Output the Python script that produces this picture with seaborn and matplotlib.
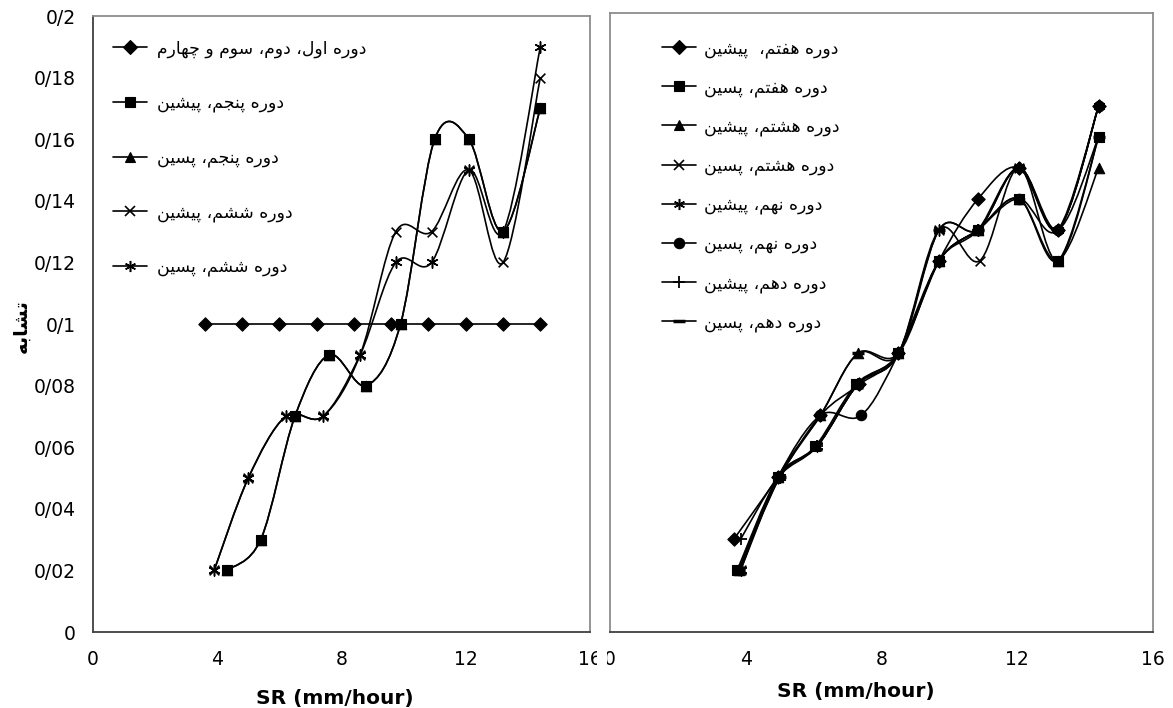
import matplotlib
matplotlib.use("Agg")
import numpy as np
import matplotlib.pyplot as plt
from matplotlib.path import Path
from matplotlib.patches import PathPatch, Rectangle
from matplotlib.lines import Line2D
import seaborn as sns

# ---------------- data ----------------
x_ticks = [0, 4, 8, 12, 16]
y_ticks = [0, 0.02, 0.04, 0.06, 0.08, 0.10, 0.12, 0.14, 0.16, 0.18, 0.20]
y_tick_labels = ["0", "0/02", "0/04", "0/06", "0/08", "0/1",
                 "0/12", "0/14", "0/16", "0/18", "0/2"]
x_title = "SR (mm/hour)"
y_title = "تشابه"

# left panel: periods 1-6
left_labels = [
    "دوره اول، دوم، سوم و چهارم",
    "دوره پنجم، پیشین",
    "دوره پنجم، پسین",
    "دوره ششم، پیشین",
    "دوره ششم، پسین",
]
p1to4_x = [3.6, 4.8, 6.0, 7.2, 8.4, 9.6, 10.8, 12.0, 13.2, 14.4]
p1to4_y = [0.10, 0.10, 0.10, 0.10, 0.10, 0.10, 0.10, 0.10, 0.10, 0.10]
p5_am_x = [4.3, 5.4, 6.5, 7.6, 8.8, 9.9, 11.0, 12.1, 13.2, 14.4]
p5_am_y = [0.02, 0.03, 0.07, 0.09, 0.08, 0.10, 0.16, 0.16, 0.13, 0.17]
p5_pm_x = [4.3, 5.4, 6.5, 7.6, 8.8, 9.9, 11.0, 12.1, 13.2, 14.4]
p5_pm_y = [0.02, 0.03, 0.07, 0.09, 0.08, 0.10, 0.16, 0.16, 0.13, 0.17]
p6_am_x = [3.9, 5.0, 6.2, 7.4, 8.6, 9.75, 10.9, 12.1, 13.2, 14.4]
p6_am_y = [0.02, 0.05, 0.07, 0.07, 0.09, 0.13, 0.13, 0.15, 0.12, 0.18]
p6_pm_x = [3.9, 5.0, 6.2, 7.4, 8.6, 9.75, 10.9, 12.1, 13.2, 14.4]
p6_pm_y = [0.02, 0.05, 0.07, 0.07, 0.09, 0.12, 0.12, 0.15, 0.13, 0.19]

# right panel: periods 7-10
right_labels = [
    "دوره هفتم،  پیشین",
    "دوره هفتم، پسین",
    "دوره هشتم، پیشین",
    "دوره هشتم، پسین",
    "دوره نهم، پیشین",
    "دوره نهم، پسین",
    "دوره دهم، پیشین",
    "دوره دهم، پسین",
]
p7_am_x = [3.65, 4.95, 6.2, 7.35, 8.5, 9.7, 10.85, 12.05, 13.2, 14.4]
p7_am_y = [0.03, 0.05, 0.07, 0.08, 0.09, 0.12, 0.14, 0.15, 0.13, 0.17]
p7_pm_x = [3.75, 4.95, 6.05, 7.25, 8.5, 9.7, 10.85, 12.05, 13.2, 14.4]
p7_pm_y = [0.02, 0.05, 0.06, 0.08, 0.09, 0.12, 0.13, 0.14, 0.12, 0.16]
p8_am_x = [3.8, 4.95, 6.2, 7.3, 8.5, 9.7, 10.85, 12.05, 13.2, 14.4]
p8_am_y = [0.02, 0.05, 0.07, 0.09, 0.09, 0.12, 0.13, 0.14, 0.12, 0.15]
p8_pm_x = [3.85, 4.95, 6.1, 7.3, 8.5, 9.7, 10.9, 12.05, 13.2, 14.4]
p8_pm_y = [0.02, 0.05, 0.06, 0.08, 0.09, 0.13, 0.12, 0.15, 0.12, 0.16]
p9_am_x = [3.85, 5.0, 6.1, 7.3, 8.5, 9.7, 10.85, 12.05, 13.2, 14.4]
p9_am_y = [0.02, 0.05, 0.06, 0.08, 0.09, 0.13, 0.13, 0.15, 0.13, 0.17]
p9_pm_x = [3.8, 4.95, 6.2, 7.4, 8.5, 9.7, 10.85, 12.05, 13.2, 14.4]
p9_pm_y = [0.02, 0.05, 0.07, 0.07, 0.09, 0.12, 0.13, 0.14, 0.13, 0.17]
p10_am_x = [3.85, 4.95, 6.1, 7.3, 8.5, 9.7, 10.85, 12.05, 13.2, 14.4]
p10_am_y = [0.03, 0.05, 0.06, 0.08, 0.09, 0.12, 0.13, 0.15, 0.13, 0.17]
p10_pm_x = [3.8, 5.0, 6.2, 7.3, 8.5, 9.7, 10.85, 12.05, 13.2, 14.4]
p10_pm_y = [0.02, 0.05, 0.07, 0.09, 0.09, 0.13, 0.13, 0.15, 0.13, 0.16]

# (legend index, x, y) in drawing order; hidden duplicates go first
left_series = [(0, p1to4_x, p1to4_y), (2, p5_pm_x, p5_pm_y),
               (1, p5_am_x, p5_am_y), (4, p6_pm_x, p6_pm_y),
               (3, p6_am_x, p6_am_y)]
right_series = [(0, p7_am_x, p7_am_y), (1, p7_pm_x, p7_pm_y),
                (2, p8_am_x, p8_am_y), (3, p8_pm_x, p8_pm_y),
                (4, p9_am_x, p9_am_y), (5, p9_pm_x, p9_pm_y),
                (6, p10_am_x, p10_am_y), (7, p10_pm_x, p10_pm_y)]

# marker style per legend entry: (marker, size in pt, edge width)
left_styles = [("D", 6.8, 0.8), ("s", 7.5, 0.8), ("^", 7.5, 0.8),
               ("x", 7.0, 1.2), ((6, 2, 0), 8.0, 1.1)]
right_styles = [("D", 6.8, 0.8), ("s", 7.5, 0.8), ("^", 7.5, 0.8),
                ("x", 7.0, 1.2), ((6, 2, 0), 8.0, 1.1), ("o", 7.5, 0.8),
                ("+", 9.0, 1.3), ("_", 8.0, 2.5)]

# ---------------- helpers ----------------
_FORMS = {
    # letter: (isolated, final, initial, medial); None = no forward joining
    "ا": ("\uFE8D", "\uFE8E", None, None),
    "د": ("\uFEA9", "\uFEAA", None, None),
    "ر": ("\uFEAD", "\uFEAE", None, None),
    "و": ("\uFEED", "\uFEEE", None, None),
    "ب": ("\uFE8F", "\uFE90", "\uFE91", "\uFE92"),
    "پ": ("\uFB56", "\uFB57", "\uFB58", "\uFB59"),
    "ت": ("\uFE95", "\uFE96", "\uFE97", "\uFE98"),
    "ج": ("\uFE9D", "\uFE9E", "\uFE9F", "\uFEA0"),
    "چ": ("\uFB7A", "\uFB7B", "\uFB7C", "\uFB7D"),
    "س": ("\uFEB1", "\uFEB2", "\uFEB3", "\uFEB4"),
    "ش": ("\uFEB5", "\uFEB6", "\uFEB7", "\uFEB8"),
    "ف": ("\uFED1", "\uFED2", "\uFED3", "\uFED4"),
    "ل": ("\uFEDD", "\uFEDE", "\uFEDF", "\uFEE0"),
    "م": ("\uFEE1", "\uFEE2", "\uFEE3", "\uFEE4"),
    "ن": ("\uFEE5", "\uFEE6", "\uFEE7", "\uFEE8"),
    "ه": ("\uFEE9", "\uFEEA", "\uFEEB", "\uFEEC"),
    "ی": ("\uFBFC", "\uFBFD", "\uFBFE", "\uFBFF"),
}


def rtl(text):
    """Contextual Persian letter forms in visual (left-to-right) order."""
    out = []
    for i, ch in enumerate(text):
        f = _FORMS.get(ch)
        if f is None:
            out.append(ch)
            continue
        prev = text[i - 1] if i > 0 else ""
        nxt = text[i + 1] if i + 1 < len(text) else ""
        jp = prev in _FORMS and _FORMS[prev][2] is not None
        jn = nxt in _FORMS and f[2] is not None
        if jp and jn:
            out.append(f[3])
        elif jp:
            out.append(f[1])
        elif jn:
            out.append(f[2])
        else:
            out.append(f[0])
    return "".join(reversed(out))


def smooth_path(xs, ys):
    """Cardinal-spline Bezier path through the points (smoothed line)."""
    p = np.column_stack([xs, ys]).astype(float)
    n = len(p)
    verts, codes = [p[0]], [Path.MOVETO]
    for i in range(n - 1):
        p0 = p[i - 1] if i > 0 else p[i]
        p1, p2 = p[i], p[i + 1]
        p3 = p[i + 2] if i + 2 < n else p[i + 1]
        verts += [p1 + (p2 - p0) / 6.0, p2 - (p3 - p1) / 6.0, p2]
        codes += [Path.CURVE4] * 3
    return Path(verts, codes)


def draw_series(ax, xs, ys, style):
    marker, ms, mew = style
    ax.add_patch(PathPatch(smooth_path(xs, ys), facecolor="none",
                           edgecolor="black", lw=1.2, zorder=2))
    sns.scatterplot(x=xs, y=ys, marker=marker, s=ms ** 2, color="black",
                    edgecolor="black", linewidth=mew, ax=ax, zorder=3,
                    legend=False)


def handles(styles):
    return [Line2D([0], [0], color="black", lw=1.2, marker=m, markersize=ms,
                   markerfacecolor="black", markeredgecolor="black",
                   markeredgewidth=mew) for m, ms, mew in styles]


# ---------------- figure ----------------
sns.set_theme(style="white")
plt.rcParams["font.family"] = ["DejaVu Sans"]
plt.rcParams.update({"text.color": "black", "axes.labelcolor": "black",
                     "xtick.labelcolor": "black", "ytick.labelcolor": "black"})

W, H = 1173, 708
fig = plt.figure(figsize=(W / 100, H / 100), dpi=100)
fig.patch.set_facecolor("white")


def frac_box(x0, x1, y0, y1):
    return [x0 / W, 1 - y1 / H, (x1 - x0) / W, (y1 - y0) / H]


axL = fig.add_axes(frac_box(93, 590, 16, 632))
axR = fig.add_axes(frac_box(610, 1153, 13, 632))

for ax in (axL, axR):
    ax.set_facecolor("white")
    ax.set_xlim(0, 16)
    ax.set_ylim(0, 0.2)
    ax.set_xticks(x_ticks)
    ax.set_xticklabels([str(t) for t in x_ticks])
    ax.tick_params(axis="x", direction="out", length=5, width=1,
                   color="#404040", labelcolor="black", pad=8,
                   labelsize=13.5)
    for side in ("top", "right", "left"):
        ax.spines[side].set_color("#8c8c8c")
        ax.spines[side].set_linewidth(1.3)
    ax.spines["bottom"].set_color("#404040")
    ax.spines["bottom"].set_linewidth(1.3)
    ax.set_xlabel(x_title, fontsize=14.5, fontweight="bold", color="black")

axL.spines["left"].set_color("#404040")
axL.set_yticks(y_ticks)
axL.set_yticklabels(y_tick_labels)
axL.tick_params(axis="y", direction="out", length=7, width=1,
                color="#404040", labelcolor="black", pad=5.5,
                labelsize=13.5)
axR.set_yticks([])
axR.tick_params(axis="y", left=False, labelleft=False)

axL.set_ylabel(rtl(y_title), fontsize=14, fontweight="bold", color="black")
axL.yaxis.set_label_coords(-0.125, 0.497)
axL.xaxis.set_label_coords(0.487, -0.093)
axR.xaxis.set_label_coords(0.452, -0.080)

for k, xs, ys in left_series:
    draw_series(axL, xs, ys, left_styles[k])
for k, xs, ys in right_series:
    draw_series(axR, xs, ys, right_styles[k])

legend_font = {"family": ["DejaVu Sans"], "size": 12.4}
axL.legend(handles(left_styles), [rtl(s) for s in left_labels],
           loc="upper left", bbox_to_anchor=(0.040, 0.962), frameon=False,
           borderpad=0, borderaxespad=0, handlelength=2.0, handletextpad=0.55,
           labelspacing=2.1, prop=legend_font, labelcolor="black")
axR.legend(handles(right_styles), [rtl(s) for s in right_labels],
           loc="upper left", bbox_to_anchor=(0.095, 0.958), frameon=False,
           borderpad=0, borderaxespad=0, handlelength=2.0, handletextpad=0.45,
           labelspacing=1.2, prop=legend_font, labelcolor="black")

# the right panel sits over the tail of the left panel's last tick label
fig.add_artist(Rectangle((597 / W, 1 - 668 / H), 10 / W, 28 / H,
                         transform=fig.transFigure, facecolor="white",
                         edgecolor="none", zorder=10))

fig.savefig("out.png", dpi=100, facecolor="white")
